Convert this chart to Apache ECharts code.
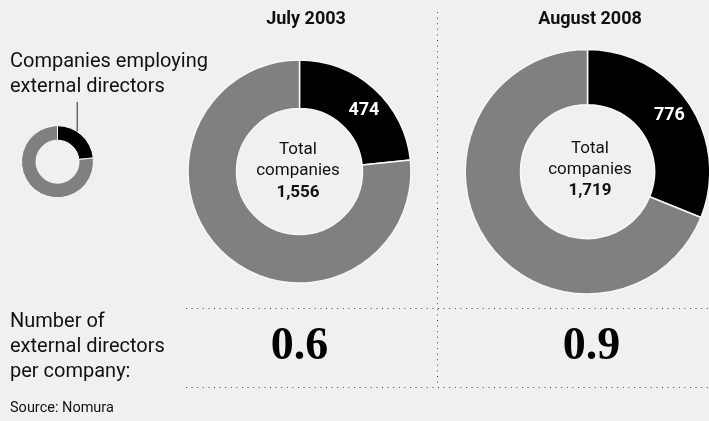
<!DOCTYPE html>
<html>
<head>
<meta charset="utf-8">
<script src="https://cdn.jsdelivr.net/npm/echarts@6/dist/echarts.min.js"></script>
<style>
html,body{margin:0;padding:0;background:#f0f0f0;}
#chart{width:709px;height:421px;}
</style>
</head>
<body>
<div id="chart"></div>
<script>
const periods = ['July 2003', 'August 2008'];
const withExternal = [474, 776];
const totalCompanies = [1556, 1719];
const directorsPerCompany = ['0.6', '0.9'];
const legendTitle = 'Companies employing\nexternal directors';
const bottomLabel = 'Number of\nexternal directors\nper company:';
const sourceText = 'Source: Nomura';

const FONT = "Roboto, 'Noto Sans', sans-serif";
const SERIF = "'Liberation Serif', 'DejaVu Serif', serif";

const chart = echarts.init(document.getElementById('chart'), null, {renderer: 'canvas'});

const centers = [[299.5, 171.5], [587.5, 171.7]];
const radii = [[63, 111.5], [67, 122.3]];
const labelOffsets = [[4, 6], [1, -2]];

function fmt(n) { return n.toLocaleString('en-US'); }

const series = [];
periods.forEach((p, i) => {
  series.push({
    type: 'pie',
    center: centers[i],
    radius: radii[i],
    startAngle: 90,
    clockwise: true,
    silent: true,
    animation: false,
    itemStyle: {borderColor: '#f7f7f7', borderWidth: 1.5},
    labelLine: {show: false},
    data: [
      {value: withExternal[i], name: 'With external directors',
       itemStyle: {color: '#000000'},
       label: {show: true, position: 'inside', formatter: fmt(withExternal[i]),
               color: '#ffffff', fontFamily: FONT, fontWeight: 'bold', fontSize: 18,
               offset: labelOffsets[i]}},
      {value: totalCompanies[i], name: 'Total companies',
       itemStyle: {color: '#808080'},
       label: {show: false}}
    ]
  });
});
// small legend donut
series.push({
  type: 'pie',
  center: [57.5, 161.7],
  radius: [21.5, 36],
  startAngle: 90,
  silent: true,
  animation: false,
  itemStyle: {borderColor: '#f7f7f7', borderWidth: 1},
  label: {show: false},
  labelLine: {show: false},
  data: [
    {value: withExternal[0], itemStyle: {color: '#000000'}},
    {value: totalCompanies[0], itemStyle: {color: '#808080'}}
  ]
});

const graphics = [];
periods.forEach((p, i) => {
  graphics.push({type: 'text', x: [306, 590][i], y: 19,
    style: {text: p, font: 'bold 18px ' + FONT, fill: '#111', align: 'center', verticalAlign: 'middle'}});
  const cx = [298, 590][i];
  const cy = [150, 148.3][i];
  graphics.push({type: 'text', x: cx, y: cy,
    style: {text: 'Total', font: '17px ' + FONT, fill: '#111', align: 'center', verticalAlign: 'middle'}});
  graphics.push({type: 'text', x: cx, y: cy + 21,
    style: {text: 'companies', font: '17px ' + FONT, fill: '#111', align: 'center', verticalAlign: 'middle'}});
  graphics.push({type: 'text', x: cx, y: cy + 42.5,
    style: {text: fmt(totalCompanies[i]), font: 'bold 17px ' + FONT, fill: '#111', align: 'center', verticalAlign: 'middle'}});
  graphics.push({type: 'text', x: [299.5, 591.5][i], y: 347,
    style: {text: directorsPerCompany[i], font: 'bold 46px ' + SERIF, fill: '#000', align: 'center', verticalAlign: 'middle'}});
});
graphics.push({type: 'text', x: 10, y: 49,
  style: {text: legendTitle, font: '20px ' + FONT, fill: '#111', lineHeight: 25, verticalAlign: 'top'}});
graphics.push({type: 'line', shape: {x1: 77.3, y1: 102, x2: 77.3, y2: 131}, style: {stroke: '#666', lineWidth: 1.5}});
graphics.push({type: 'text', x: 10, y: 309,
  style: {text: bottomLabel, font: '20px ' + FONT, fill: '#111', lineHeight: 25, verticalAlign: 'top'}});
graphics.push({type: 'text', x: 10, y: 408,
  style: {text: sourceText, font: '14.5px ' + FONT, fill: '#111', verticalAlign: 'middle'}});
const dot = {stroke: '#444', lineWidth: 1, lineDash: [1, 4.6]};
graphics.push({type: 'line', shape: {x1: 186, y1: 308.5, x2: 709, y2: 308.5}, style: dot});
graphics.push({type: 'line', shape: {x1: 186, y1: 387.5, x2: 709, y2: 387.5}, style: dot});
graphics.push({type: 'line', shape: {x1: 437.5, y1: 12, x2: 437.5, y2: 387}, style: dot});

chart.setOption({
  backgroundColor: '#f0f0f0',
  animation: false,
  series: series,
  graphic: graphics
});
</script>
</body>
</html>
